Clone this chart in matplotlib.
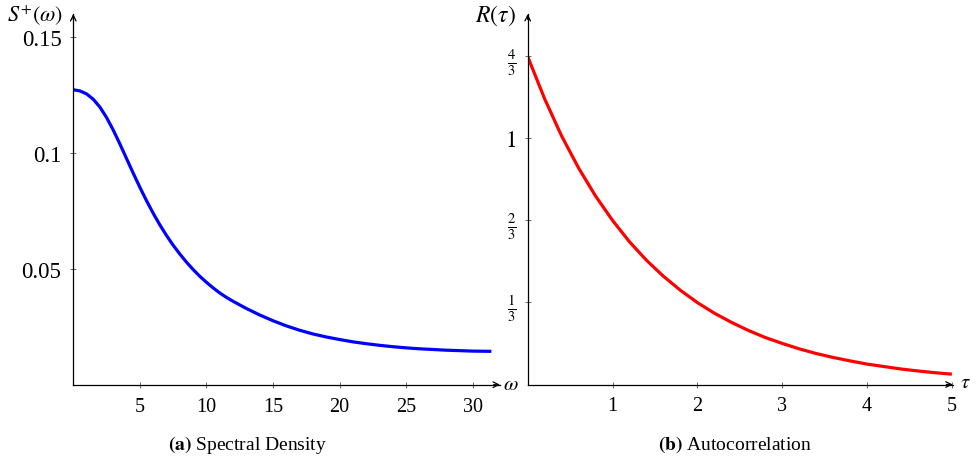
import matplotlib
matplotlib.use("Agg")
import matplotlib.pyplot as plt

plt.rcParams['font.family'] = ['Liberation Serif', 'DejaVu Serif']
plt.rcParams['mathtext.fontset'] = 'stix'

# ---- data ----
omega = [0, 0.5, 1.0, 1.5, 2.0, 2.5, 3.0, 3.5, 4.0, 4.5, 5.0, 5.5, 6.0, 6.5,
         7.0, 7.5, 8.0, 8.5, 9.0, 9.5, 10.0, 10.5, 11.0, 11.5, 12, 13, 14, 15,
         16, 17, 18, 19, 20, 21, 22, 23, 24, 25, 26, 27, 28, 29, 30, 31.4]
spectral = [0.1273, 0.1268, 0.1255, 0.1232, 0.1198, 0.1153, 0.1099, 0.1039,
            0.0976, 0.0913, 0.0852, 0.0794, 0.0740, 0.0690, 0.0644, 0.0602,
            0.0564, 0.0529, 0.0497, 0.0468, 0.0442, 0.0418, 0.0396, 0.0377,
            0.0360, 0.0329, 0.0301, 0.0276, 0.0254, 0.0235, 0.0219, 0.0206,
            0.0195, 0.0185, 0.0177, 0.0170, 0.0164, 0.0159, 0.0155, 0.0152,
            0.0149, 0.0147, 0.0145, 0.0144]

tau = [0, 0.2, 0.4, 0.6, 0.8, 1.0, 1.2, 1.4, 1.6, 1.8, 2.0, 2.2, 2.4, 2.6,
       2.8, 3.0, 3.2, 3.4, 3.6, 3.8, 4.0, 4.2, 4.4, 4.6, 4.8, 5.0]
autocorr = [1.333, 1.161, 1.010, 0.880, 0.766, 0.667, 0.580, 0.505, 0.440,
            0.383, 0.333, 0.290, 0.253, 0.220, 0.191, 0.167, 0.145, 0.126,
            0.110, 0.096, 0.083, 0.073, 0.063, 0.055, 0.048, 0.042]

left_xticks = [5, 10, 15, 20, 25, 30]
left_yticks = [0.05, 0.1, 0.15]
left_yticklabels = ['0.05', '0.1', '0.15']
right_xticks = [1, 2, 3, 4, 5]
right_yticks = [1/3, 2/3, 1, 4/3]
right_yticklabels = [r'$\frac{1}{3}$', r'$\frac{2}{3}$', r'$1$', r'$\frac{4}{3}$']

W, H = 977, 464
fig = plt.figure(figsize=(W/100, H/100), dpi=100)

def frac_rect(x0, x1, ytop, ybot):
    return [x0/W, 1 - ybot/H, (x1 - x0)/W, (ybot - ytop)/H]

axL = fig.add_axes(frac_rect(73.3, 500, 15, 385.7))
axR = fig.add_axes(frac_rect(527.7, 952.7, 15, 385.5))

def style(ax):
    for s in ['top', 'right']:
        ax.spines[s].set_visible(False)
    for s in ['left', 'bottom']:
        ax.spines[s].set_linewidth(0.9)
        ax.spines[s].set_color('black')
    ax.tick_params(direction='inout', length=5, width=0.6, color='#555555')
    ax.annotate('', xy=(1.0, 0), xytext=(0.985, 0), xycoords='axes fraction',
                arrowprops=dict(arrowstyle='->', lw=0.9, color='black',
                                shrinkA=0, shrinkB=0))
    ax.annotate('', xy=(0, 1.0), xytext=(0, 0.985), xycoords='axes fraction',
                arrowprops=dict(arrowstyle='->', lw=0.9, color='black',
                                shrinkA=0, shrinkB=0))

style(axL)
axL.plot(omega, spectral, color='#0000ff', lw=2.3, solid_capstyle='butt',
         solid_joinstyle='round')
axL.set_xlim(0, 32.05)
axL.set_ylim(0, 0.16)
axL.set_xticks(left_xticks)
axL.set_xticklabels([str(v) for v in left_xticks], fontsize=14.5)
axL.set_yticks(left_yticks)
axL.set_yticklabels(left_yticklabels, fontsize=16.5)
axL.tick_params(axis='x', pad=6)
axL.tick_params(axis='y', pad=6)
fig.text(35/W, 1 - 16/H, r'$S^{+}(\omega)$', fontsize=16, ha='center', va='center')
fig.text(511/W, 1 - 385/H, r'$\omega$', fontsize=15, ha='center', va='center')

style(axR)
axR.plot(tau, autocorr, color='#ff0000', lw=2.3, solid_capstyle='butt',
         solid_joinstyle='round')
axR.set_xlim(0, 5.01)
axR.set_ylim(0, 1.506)
axR.set_xticks(right_xticks)
axR.set_xticklabels([str(v) for v in right_xticks], fontsize=14.5)
axR.set_yticks(right_yticks)
axR.set_yticklabels(right_yticklabels, fontsize=15)
for lab in axR.get_yticklabels():
    if lab.get_text() == r'$1$':
        lab.set_fontsize(16.5)
axR.tick_params(axis='x', pad=6)
axR.tick_params(axis='y', pad=6)
fig.text(496/W, 1 - 16/H, r'$R(\tau)$', fontsize=17, ha='center', va='center')
fig.text(965/W, 1 - 383/H, r'$\tau$', fontsize=15, ha='center', va='center')

fig.text(247/W, 1 - 445/H, r'$\mathbf{(a)}$ Spectral Density', fontsize=14,
         ha='center', va='center')
fig.text(735/W, 1 - 445/H, r'$\mathbf{(b)}$ Autocorrelation', fontsize=14,
         ha='center', va='center')

fig.savefig('out.png', dpi=100)
